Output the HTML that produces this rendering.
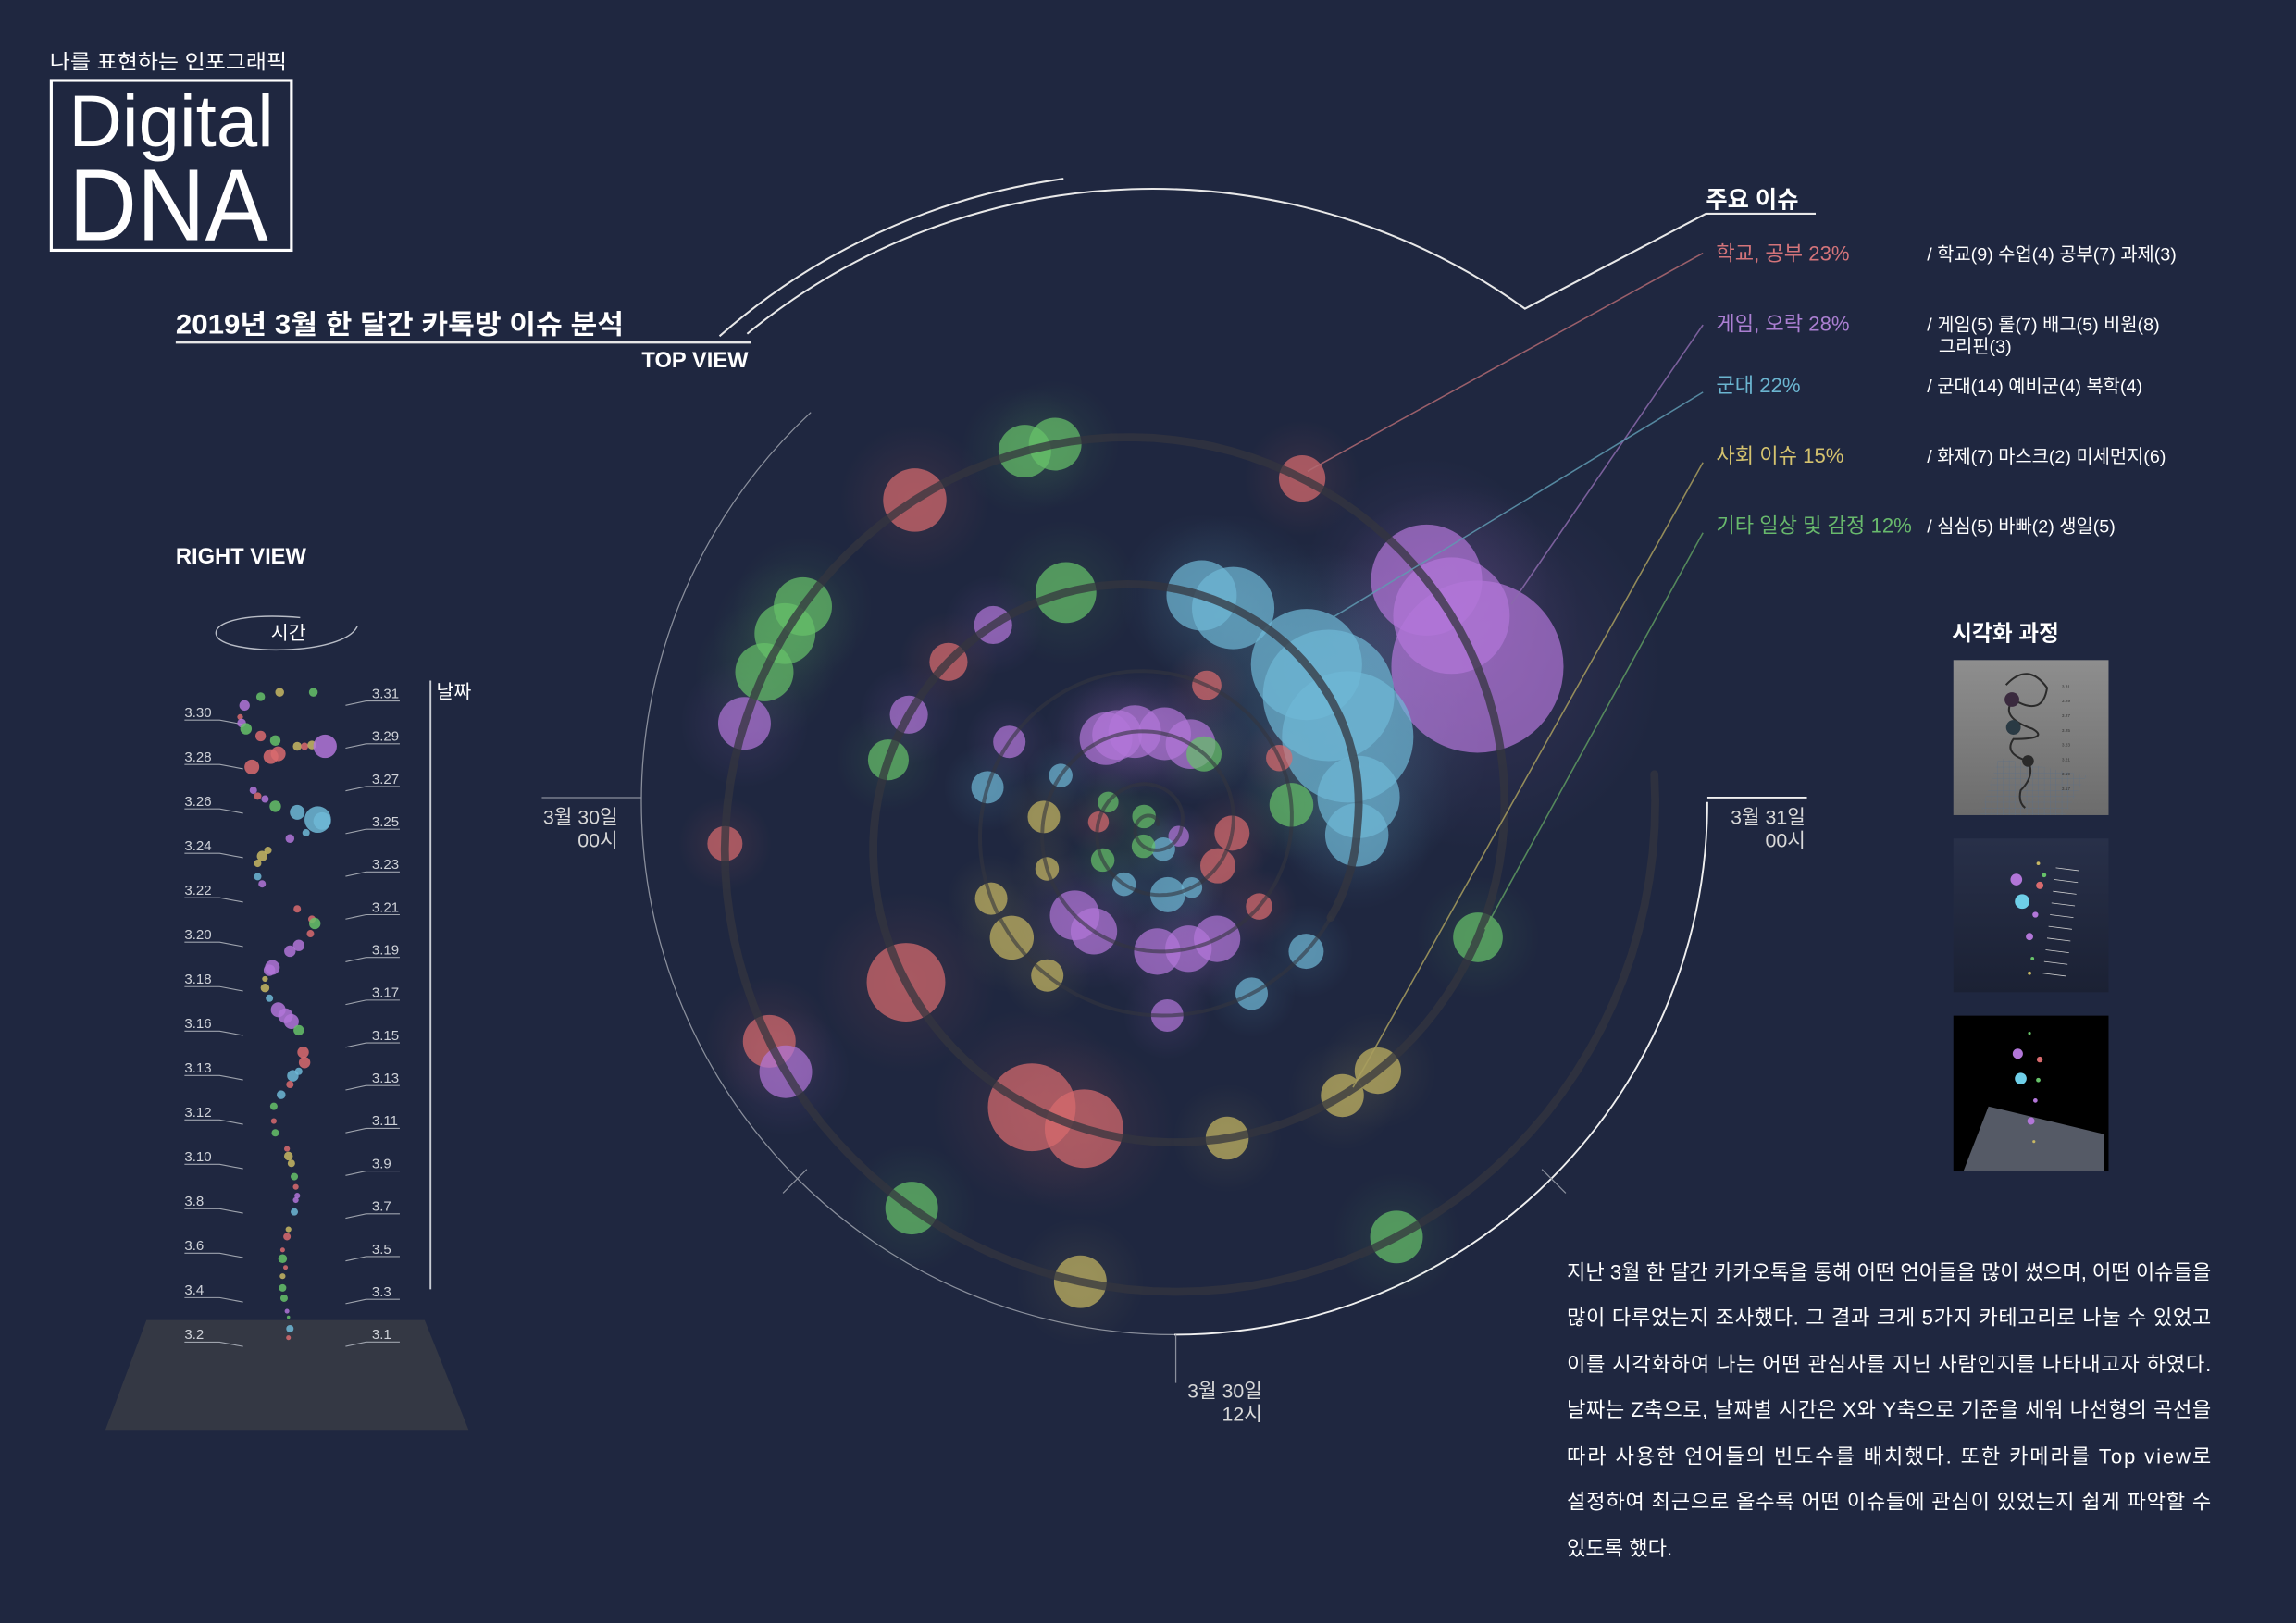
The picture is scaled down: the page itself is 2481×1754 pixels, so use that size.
<!DOCTYPE html>
<html lang="ko">
<head>
<meta charset="utf-8">
<title>Digital DNA</title>
<style>
  html,body{margin:0;padding:0;background:#1f2740;}
  body{width:2481px;height:1754px;overflow:hidden;}
  svg{display:block;}
  text{font-family:"Liberation Sans","Noto Sans CJK KR",sans-serif;}
</style>
</head>
<body>
<svg id="root" width="2481" height="1754" viewBox="0 0 1568 1109" preserveAspectRatio="none" xmlns="http://www.w3.org/2000/svg">
  <defs>
    <radialGradient id="g0"><stop offset="0" stop-color="#d96b6e" stop-opacity="0.13"/><stop offset="1" stop-color="#d96b6e" stop-opacity="0"/></radialGradient>
    <radialGradient id="g1"><stop offset="0" stop-color="#b276d8" stop-opacity="0.13"/><stop offset="1" stop-color="#b276d8" stop-opacity="0"/></radialGradient>
    <radialGradient id="g2"><stop offset="0" stop-color="#6fb8d6" stop-opacity="0.13"/><stop offset="1" stop-color="#6fb8d6" stop-opacity="0"/></radialGradient>
    <radialGradient id="g3"><stop offset="0" stop-color="#c8b863" stop-opacity="0.1"/><stop offset="1" stop-color="#c8b863" stop-opacity="0"/></radialGradient>
    <radialGradient id="g4"><stop offset="0" stop-color="#66c269" stop-opacity="0.12"/><stop offset="1" stop-color="#66c269" stop-opacity="0"/></radialGradient>
    <linearGradient id="thumb1bg" x1="0" y1="0" x2="0" y2="1"><stop offset="0" stop-color="#8e8e8e"/><stop offset="1" stop-color="#6c6c6c"/></linearGradient>
    <linearGradient id="thumb2bg" x1="0" y1="0" x2="0" y2="1"><stop offset="0" stop-color="#283049"/><stop offset="1" stop-color="#1b2134"/></linearGradient>
    <pattern id="grid" width="4" height="4" patternUnits="userSpaceOnUse"><path d="M4 0H0V4" fill="none" stroke="#5d6f86" stroke-width="0.5"/></pattern>
  </defs>
  <rect x="0" y="0" width="1568" height="1109" fill="#1f2740"/>

  <!-- Header -->
  <text x="34" y="47" font-size="14" fill="#ffffff" textLength="162" lengthAdjust="spacingAndGlyphs">나를 표현하는 인포그래픽</text>
  <rect x="35" y="55" width="164" height="116" fill="none" stroke="#ffffff" stroke-width="2"/>
  <text x="47" y="100" font-size="50" fill="#ffffff" textLength="140" lengthAdjust="spacingAndGlyphs">Digital</text>
  <text x="47" y="164" font-size="70" fill="#ffffff" textLength="136" lengthAdjust="spacingAndGlyphs">DNA</text>

  <text x="120" y="228" font-size="18.5" font-weight="bold" fill="#ffffff" textLength="306" lengthAdjust="spacingAndGlyphs">2019년 3월 한 달간 카톡방 이슈 분석</text>
  <line x1="120" y1="234" x2="513" y2="234" stroke="#e6e6e6" stroke-width="1.6"/>
  <text x="511" y="251" font-size="15" font-weight="bold" fill="#ffffff" text-anchor="end">TOP VIEW</text>
  <text x="120" y="385" font-size="15" font-weight="bold" fill="#ffffff">RIGHT VIEW</text>

  <g id="topview"></g>
  <g id="rightview"></g>

  <!-- Legend -->
  <text x="1165" y="142" font-size="16" font-weight="bold" fill="#ffffff">주요 이슈</text>
  <g font-size="14">
    <text x="1172" y="178" fill="#d4747a">학교, 공부 23%</text>
    <text x="1172" y="226" fill="#ab7fd2">게임, 오락 28%</text>
    <text x="1172" y="268" fill="#6bb5d0">군대 22%</text>
    <text x="1172" y="316" fill="#d4c26e">사회 이슈 15%</text>
    <text x="1172" y="364" fill="#68b96c">기타 일상 및 감정 12%</text>
  </g>
  <g font-size="12.5" fill="#ffffff">
    <text x="1316" y="178">/ 학교(9) 수업(4) 공부(7) 과제(3)</text>
    <text x="1316" y="226">/ 게임(5) 롤(7) 배그(5) 비원(8)</text>
    <text x="1324" y="241">그리핀(3)</text>
    <text x="1316" y="268">/ 군대(14) 예비군(4) 복학(4)</text>
    <text x="1316" y="316">/ 화제(7) 마스크(2) 미세먼지(6)</text>
    <text x="1316" y="364">/ 심심(5) 바빠(2) 생일(5)</text>
  </g>

  <!-- Visualization process -->
  <text x="1333" y="438" font-size="15" font-weight="bold" fill="#ffffff">시각화 과정</text>
  <g>
    <rect x="1334" y="451" width="106" height="106" fill="url(#thumb1bg)"/>
    <polygon points="1365,518 1425,530 1410,557 1352,557" fill="url(#grid)" opacity="0.9"/>
    <path d="M1370,468 Q1385,452 1398,470 Q1395,490 1375,478 Q1365,490 1388,498 Q1400,505 1375,505 Q1368,515 1385,520 Q1390,530 1380,540 Q1378,548 1383,552" fill="none" stroke="#2a2a2a" stroke-width="1.3"/>
    <circle cx="1374" cy="478" r="5" fill="#3a2a3e"/><circle cx="1375" cy="497" r="5" fill="#2a3a44"/><circle cx="1385" cy="520" r="4" fill="#2a2a2a"/>
    <g fill="#333" font-size="3"><text x="1408" y="470">3.31</text><text x="1408" y="480">3.29</text><text x="1408" y="490">3.27</text><text x="1408" y="500">3.25</text><text x="1408" y="510">3.23</text><text x="1408" y="520">3.21</text><text x="1408" y="530">3.19</text><text x="1408" y="540">3.17</text></g>
  </g>
  <g>
    <rect x="1334" y="573" width="106" height="105" fill="url(#thumb2bg)"/>
    <circle cx="1377" cy="601" r="4" fill="#b276d8"/><circle cx="1381" cy="616" r="5" fill="#6fcfe8"/>
    <circle cx="1393" cy="605" r="2.5" fill="#d96b6e"/><circle cx="1396" cy="598" r="1.5" fill="#66c269"/>
    <circle cx="1390" cy="625" r="2" fill="#b276d8"/><circle cx="1386" cy="640" r="2.5" fill="#b276d8"/>
    <circle cx="1392" cy="590" r="1.2" fill="#c8b863"/><circle cx="1388" cy="655" r="1.2" fill="#66c269"/><circle cx="1386" cy="665" r="1.2" fill="#c8b863"/>
    <g stroke="#cfcfcf" stroke-width="0.5"><line x1="1404" y1="593" x2="1420" y2="595"/><line x1="1403" y1="601" x2="1419" y2="603"/><line x1="1402" y1="609" x2="1418" y2="611"/><line x1="1401" y1="617" x2="1417" y2="619"/><line x1="1400" y1="625" x2="1416" y2="627"/><line x1="1399" y1="633" x2="1415" y2="635"/><line x1="1398" y1="641" x2="1414" y2="643"/><line x1="1397" y1="649" x2="1413" y2="651"/><line x1="1396" y1="657" x2="1412" y2="659"/><line x1="1395" y1="665" x2="1411" y2="667"/></g>
  </g>
  <g>
    <rect x="1334" y="694" width="106" height="106" fill="#000000"/>
    <polygon points="1358,756 1437,775 1437,800 1341,800" fill="#555a66"/>
    <circle cx="1378" cy="720" r="3.5" fill="#b276d8"/><circle cx="1380" cy="737" r="4" fill="#6fcfe8"/>
    <circle cx="1393" cy="724" r="2" fill="#d96b6e"/><circle cx="1392" cy="738" r="1.5" fill="#66c269"/>
    <circle cx="1390" cy="752" r="1.5" fill="#b276d8"/><circle cx="1387" cy="766" r="2.5" fill="#b276d8"/>
    <circle cx="1386" cy="706" r="1" fill="#66c269"/><circle cx="1389" cy="780" r="1" fill="#c8b863"/>
  </g>

  <!-- Description paragraph -->
  <g font-size="14" fill="#ffffff">
    <text x="1070" y="874" textLength="440" lengthAdjust="spacing">지난 3월 한 달간 카카오톡을 통해 어떤 언어들을 많이 썼으며, 어떤 이슈들을</text>
    <text x="1070" y="905" textLength="440" lengthAdjust="spacing">많이 다루었는지 조사했다. 그 결과 크게 5가지 카테고리로 나눌 수 있었고</text>
    <text x="1070" y="937" textLength="440" lengthAdjust="spacing">이를 시각화하여 나는 어떤 관심사를 지닌 사람인지를 나타내고자 하였다.</text>
    <text x="1070" y="968" textLength="440" lengthAdjust="spacing">날짜는 Z축으로, 날짜별 시간은 X와 Y축으로 기준을 세워 나선형의 곡선을</text>
    <text x="1070" y="1000" textLength="440" lengthAdjust="spacing">따라 사용한 언어들의 빈도수를 배치했다. 또한 카메라를 Top view로</text>
    <text x="1070" y="1031" textLength="440" lengthAdjust="spacing">설정하여 최근으로 올수록 어떤 이슈들에 관심이 있었는지 쉽게 파악할 수</text>
    <text x="1070" y="1063">있도록 했다.</text>
  </g>
</svg>

<script>
// ===== Top view data (t = hours before 3/31 00시) =====
const tvHours = [7.9,13.2,16.3,20.1,19.5,23.7,25.9,26.9,27.7,28.3,31.2,33.5,34.1,39.1,42.4,43.3,44.5,
  50.5,54.3,55.3,58.2,61.7,63.1,67.7,73.9,75.3,77.2,78.9,81.3,85.6,86.7,89.8,91.1,92.7,94.9,96.3,
  101.2,103.9,107.4,112.7,114.9,116.8,121.8,124.1,134.8,140.2,142.8,148.9,152,153.8,155.7,159.9,161.5,
  165.1,168.7,171.9,176.3,177.2,178.6,181,183.3,184.7,192.6,196.1,199.6,202.3,207.5,211.5,216.7,219.9,
  242.6,248.5,255.3,270.8];
const tvFreq = [9,9,9,9,9,4,9,11,12,11,13,9,9,7,40,44,96,
  8,7,6,6,20,25,20,5.4,4.7,4.7,4.7,12,16,22,40,56,56,22,13,
  4,3.4,3.4,3.4,6.25,3.4,3.4,3.4,2.8,2.25,6.25,2.25,7,7,7,7,8,
  1.8,3.4,1.8,9,8,9,9,8,4,4,4,1.4,4,1.8,1.8,1.4,1.4,
  1.4,1.8,1.8,1.8];
const tvCat = [4,3,4,0,1,0,1,4,4,4,0,4,4,0,1,1,1,
  4,3,3,3,0,0,0,4,1,0,1,4,2,2,2,2,2,2,2,
  2,2,1,3,3,3,2,1,0,0,4,0,1,1,1,1,1,
  3,3,2,1,1,1,1,1,4,0,0,2,2,2,4,0,4,
  1,2,4,4];
// radial axis: hours -> radius (piecewise)
const tvAxisHours = [0,48,96,144,192,240,288];
const tvAxisRadius = [343,240,140,95,55,20,3];

// ===== Right view data =====
const rvDate = [30.79,31.0,31.0,30.38,29.84,29.56,29.29,28.95,28.74,28.47,28.47,28.53,28.47,27.99,28.12,27.5,
  26.41,26.14,26.0,25.66,25.38,25.04,24.97,24.42,24.15,23.6,23.33,22.99,22.37,22.03,20.86,20.38,20.18,19.7,
  18.88,19.15,18.12,17.99,17.58,17.16,16.68,16.14,15.86,15.59,15.18,14.15,13.67,13.05,13.26,12.64,12.16,
  11.62,10.93,10.38,9.63,9.29,8.95,8.33,7.85,7.44,7.23,6.68,5.86,5.52,4.9,4.49,4.08,3.67,3.12,2.64,2.03,1.75,1.21,0.79];
const rvSwing = [-19,-6,17,-30,-33,-32,-29,-19,-9,6,11,16,25,-12,-7,-25,
  -24,-21,-16,-9,6,20,23,12,1,-14,-18,-21,-21,-18,6,16,18,15,
  1,7,-11,-13,-16,-16,-13,-7,-2,2,7,10,11,3,7,1,-5,
  -10,-10,-9,-1,0,2,4,5,6,5,4,0,-1,-4,-4,-2,-4,-4,-3,-1,0,1,0];
const rvFreq = [3.5,3.5,3.5,5,1.5,3.5,6,5,5,3.5,2.5,3.5,25,10,10,10,
  2.5,2.5,2.5,6,10,32,14,2.5,3.5,2.5,5,2.5,2.5,2.5,2.5,2.5,6,2.5,
  6,6,10,6,1.5,3.5,2.5,10,10,10,5,6,6,6,2.5,2.5,3.5,
  2.5,1.5,2.5,1.5,3.5,2.5,2.5,1.5,1.5,1.5,2.5,1.5,2.5,1,3.5,1,1.5,2.5,2.5,1,0.5,2.5,1];
const rvCat = [4,3,4,1,0,1,4,0,4,3,0,3,1,0,0,0,
  1,0,1,4,2,2,2,2,1,3,3,3,2,1,0,0,4,0,
  1,1,1,1,3,3,2,1,1,1,4,0,0,2,2,0,2,
  4,0,4,0,3,3,4,0,1,1,2,3,0,0,4,0,3,4,4,1,4,2,0];
const rvLeftTicks = ['3.30','3.28','3.26','3.24','3.22','3.20','3.18','3.16','3.13','3.12','3.10','3.8','3.6','3.4','3.2'];
const rvRightTicks = ['3.31','3.29','3.27','3.25','3.23','3.21','3.19','3.17','3.15','3.13','3.11','3.9','3.7','3.5','3.3','3.1'];

const CAT_COLORS = ['#d96b6e','#b276d8','#6fb8d6','#c8b863','#66c269'];
const NS = 'http://www.w3.org/2000/svg';
const CX = 787, CY = 565;

function mk(tag, attrs, parent){
  const e = document.createElementNS(NS, tag);
  for (const k in attrs) e.setAttribute(k, attrs[k]);
  parent.appendChild(e);
  return e;
}
function rScale(t){
  const T = tvAxisHours, R = tvAxisRadius;
  if (t <= T[0]) return R[0] + (R[0]-R[1])*(T[0]-t)/(T[1]-T[0]);
  for (let i=1;i<T.length;i++){
    if (t <= T[i]) return R[i-1] + (R[i]-R[i-1])*(t-T[i-1])/(T[i]-T[i-1]);
  }
  return R[R.length-1];
}
function angleScale(t){ return (7.5*t)*Math.PI/180; }
function polar(t){ const a=angleScale(t), r=rScale(t); return [CX + r*Math.cos(a), CY + r*Math.sin(a)]; }
function sizeScale(f){ return 6*Math.sqrt(f); }

// ===== Top view =====
const tv = document.getElementById('topview');

function arcPath(cx,cy,r,a0,a1){
  const p0=[cx+r*Math.cos(a0*Math.PI/180), cy+r*Math.sin(a0*Math.PI/180)];
  const p1=[cx+r*Math.cos(a1*Math.PI/180), cy+r*Math.sin(a1*Math.PI/180)];
  const large = Math.abs(a1-a0)>180?1:0;
  const sweep = a1>a0?1:0;
  return `M${p0[0]},${p0[1]} A${r},${r} 0 ${large} ${sweep} ${p1[0]},${p1[1]}`;
}
const titleArc1 = mk('path',{d:arcPath(CX,CY,447,228.6,262.2),fill:'none',stroke:'#e8e8e8','stroke-width':1.3},tv);


const titleArc2 = mk('path',{d:arcPath(CX,CY,436,230.6,305.7)+' L1165,146 L1240,146',fill:'none',stroke:'#e8e8e8','stroke-width':1.3},tv);



const outerGray = mk('path',{d:arcPath(802,548,364,227,90),fill:'none',stroke:'#8a8f9c','stroke-width':0.8},tv);


const outerWhite = mk('path',{d:arcPath(802,548,364,90,0),fill:'none',stroke:'#f0f0f0','stroke-width':1.2},tv);


[[135,'#8a8f9c'],[45,'#8a8f9c']].forEach(function(tk){
  const a = tk[0]*Math.PI/180;
  const l = mk('line',{x1:802+355*Math.cos(a),y1:548+355*Math.sin(a),x2:802+378*Math.cos(a),y2:548+378*Math.sin(a),stroke:tk[1],'stroke-width':0.8},tv);
  
  
});
const tick30 = mk('line',{x1:370,y1:545,x2:438,y2:545,stroke:'#8a8f9c','stroke-width':0.8},tv);


const tick31 = mk('line',{x1:1166,y1:545,x2:1234,y2:545,stroke:'#f0f0f0','stroke-width':1.2},tv);


const tick12 = mk('line',{x1:803,y1:912,x2:803,y2:945,stroke:'#8a8f9c','stroke-width':0.8},tv);



function label(x,y,lines,anchor,name){
  const t = mk('text',{x:x,y:y,'font-size':13.5,fill:'#d8d8d8','text-anchor':anchor},tv);
  
  
  lines.forEach(function(s,i){ const ts=mk('tspan',{x:x,dy:i?16:0},t); ts.textContent=s; });
}
label(422,563,['3월 30일','00시'],'end','label-3-30-00');
label(1233,563,['3월 31일','00시'],'end','label-3-31-00');
label(862,955,['3월 30일','12시'],'end','label-3-30-12');

// glows
for (let i=0;i<tvHours.length;i++){
  const p = polar(tvHours[i]);
  const g = mk('circle',{cx:p[0],cy:p[1],r:sizeScale(tvFreq[i])*2.0+8,fill:'url(#g'+tvCat[i]+')'},tv);
  
  
}
// bubbles
for (let i=0;i<tvHours.length;i++){
  const p = polar(tvHours[i]);
  const c = mk('circle',{cx:p[0],cy:p[1],r:sizeScale(tvFreq[i]),fill:CAT_COLORS[tvCat[i]],'fill-opacity':0.7},tv);
  
  
}
// spiral track (outer thick, inner thin)
function spiralD(t0,t1){
  let d='';
  for (let t=t0; t<=t1; t+=0.4){
    const p = polar(t);
    d += (d?' L':'M') + p[0].toFixed(1) + ',' + p[1].toFixed(1);
  }
  return d;
}
const spiralOuter = mk('path',{d:spiralD(-0.8,100),fill:'none',stroke:'#34363f','stroke-opacity':0.75,'stroke-width':5.5,'stroke-linecap':'round'},tv);


const spiralInner = mk('path',{d:spiralD(99.6,285),fill:'none',stroke:'#34363f','stroke-opacity':0.6,'stroke-width':2.5,'stroke-linecap':'round'},tv);



// legend leader lines
const leaders = [[1163,173,893,322,'#b06a72'],[1163,222,1032,413,'#8b6aac'],[1163,268,910,422,'#5f9ab2'],[1163,316,924,743,'#a89d5e'],[1163,364,1014,635,'#5e9a60']];
leaders.forEach(function(L){
  const l = mk('line',{x1:L[0],y1:L[1],x2:L[2],y2:L[3],stroke:L[4],'stroke-width':1,'stroke-opacity':0.85},tv);
  
  
});

// ===== Right view =====
const rv = document.getElementById('rightview');
function rvY(date){ return 911 - (date-1)*14.6; }
function rvX(s){ return 197 + s; }
function rvR(f){ return 1.6*Math.sqrt(f); }

const floor = mk('polygon',{points:'100,902 290,902 320,977 72,977',fill:'#343844'},rv);


const timeEllipse = mk('path',{d:'M205,422 C160,418 140,428 150,437 C165,448 235,447 244,428',fill:'none',stroke:'#b8bcc6','stroke-width':0.9},rv);


const timeLbl = mk('text',{x:197,y:437,'font-size':13,fill:'#ffffff','text-anchor':'middle'},rv);


timeLbl.textContent='시간';
const dateAxis = mk('line',{x1:294,y1:465,x2:294,y2:881,stroke:'#c8ccd4','stroke-width':1.2},rv);


const dateLbl = mk('text',{x:298,y:477,'font-size':13,fill:'#ffffff'},rv);


dateLbl.textContent='날짜';

rvLeftTicks.forEach(function(s,i){
  const y = 486 + i*30.36;
  const t = mk('text',{x:126,y:y+4,'font-size':9.5,fill:'#cfd2d8'},rv);
  
  
  t.textContent = s;
  const l = mk('polyline',{points:`126,${y+6} 150,${y+6} 166,${y+9}`,fill:'none',stroke:'#9ea3ad','stroke-width':0.7},rv);
  
  
});
rvRightTicks.forEach(function(s,i){
  const y = 473 + i*29.2;
  const t = mk('text',{x:254,y:y+4,'font-size':9.5,fill:'#cfd2d8'},rv);
  
  
  t.textContent = s;
  const l = mk('polyline',{points:`236,${y+9} 250,${y+6} 273,${y+6}`,fill:'none',stroke:'#9ea3ad','stroke-width':0.7},rv);
  
  
});
for (let i=0;i<rvDate.length;i++){
  const c = mk('circle',{cx:rvX(rvSwing[i]),cy:rvY(rvDate[i]),r:rvR(rvFreq[i]),fill:CAT_COLORS[rvCat[i]],'fill-opacity':0.85},rv);
  
  
}
</script>
</body>
</html>
